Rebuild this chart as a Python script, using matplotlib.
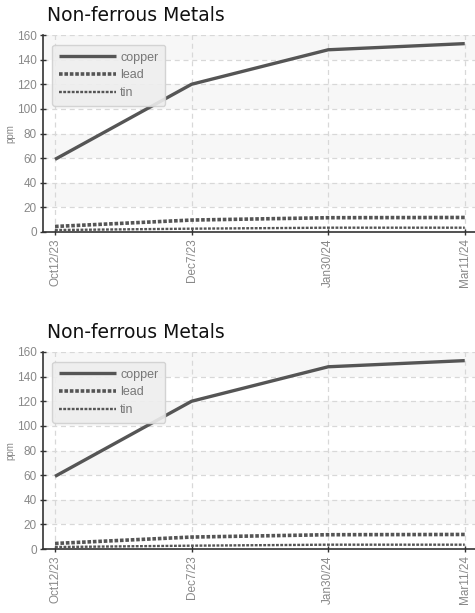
import numpy as np
import matplotlib
matplotlib.use("Agg")
import matplotlib.pyplot as plt

# data
dates = ["Oct12/23", "Dec7/23", "Jan30/24", "Mar11/24"]
copper = [59, 120, 148, 153]
lead = [4.5, 9.7, 11.6, 11.8]
tin = [1.6, 2.7, 3.5, 3.5]
yticks = [0, 20, 40, 60, 80, 100, 120, 140, 160]

narrow = ["Liberation Sans", "DejaVu Sans"]
gray = "#555555"

def draw_panel(fig, rect):
    ax = fig.add_axes(rect)
    x = np.arange(len(dates))
    ax.set_xlim(-0.088, 3.075)
    ax.set_ylim(0, 160)
    # alternating bands
    for k in range(0, len(yticks) - 1):
        if k % 2 == 1:
            ax.axhspan(yticks[k], yticks[k + 1], color="#f7f7f7", zorder=0, lw=0)
    for yv in yticks[1:]:
        ax.axhline(yv, color="#d8d8d8", lw=0.9, ls=(0, (4, 3)), zorder=1)
    for xv in x:
        ax.axvline(xv, color="#d8d8d8", lw=0.9, ls=(0, (4, 3)), zorder=1)

    ax.plot(x, copper, color=gray, lw=2.4, solid_capstyle="butt", label="copper", zorder=3)
    ax.plot(x, lead, color=gray, lw=2.6, ls=(0, (1.0, 0.5)), label="lead", zorder=3)
    ax.plot(x, tin, color=gray, lw=1.7, ls=(0, (1.2, 0.6)), label="tin", zorder=3)

    ax.set_xticks(x)
    ax.set_xticklabels(dates, rotation=90, family=narrow, fontsize=8.5, color="#888888")
    ax.set_yticks(yticks)
    ax.set_yticklabels([str(v) for v in yticks], family=narrow, fontsize=8.5, color="#888888")
    ax.tick_params(direction="inout", length=5, width=1, color="#333333", pad=2)
    for s in ["top", "right"]:
        ax.spines[s].set_visible(False)
    for s in ["left", "bottom"]:
        ax.spines[s].set_color("#333333")
        ax.spines[s].set_linewidth(1.2)
    ax.set_ylabel("ppm", fontsize=7, color="#888888", family=narrow)
    ax.yaxis.set_label_coords(-0.063, 0.5)
    ax.set_title("Non-ferrous Metals", loc="left", fontsize=13.5, color="#111111",
                 x=0.01, pad=10)

    leg = ax.legend(loc="upper left", bbox_to_anchor=(0.021, 0.95), borderaxespad=0,
                    handlelength=4.6, handletextpad=0.3, labelspacing=0.45, borderpad=0.55,
                    fancybox=True, framealpha=0.9, prop={"family": narrow, "size": 9})
    leg.get_frame().set_facecolor("#eeeeee")
    leg.get_frame().set_edgecolor("#d0d0d0")
    for t in leg.get_texts():
        t.set_color("#777777")
    return ax

fig = plt.figure(figsize=(4.75, 6.13), dpi=100)
draw_panel(fig, [43 / 475, 1 - 232 / 613, 1 - 43 / 475, 197 / 613])
draw_panel(fig, [43 / 475, 1 - 549 / 613, 1 - 43 / 475, 197 / 613])
fig.savefig("out.png", dpi=100)
